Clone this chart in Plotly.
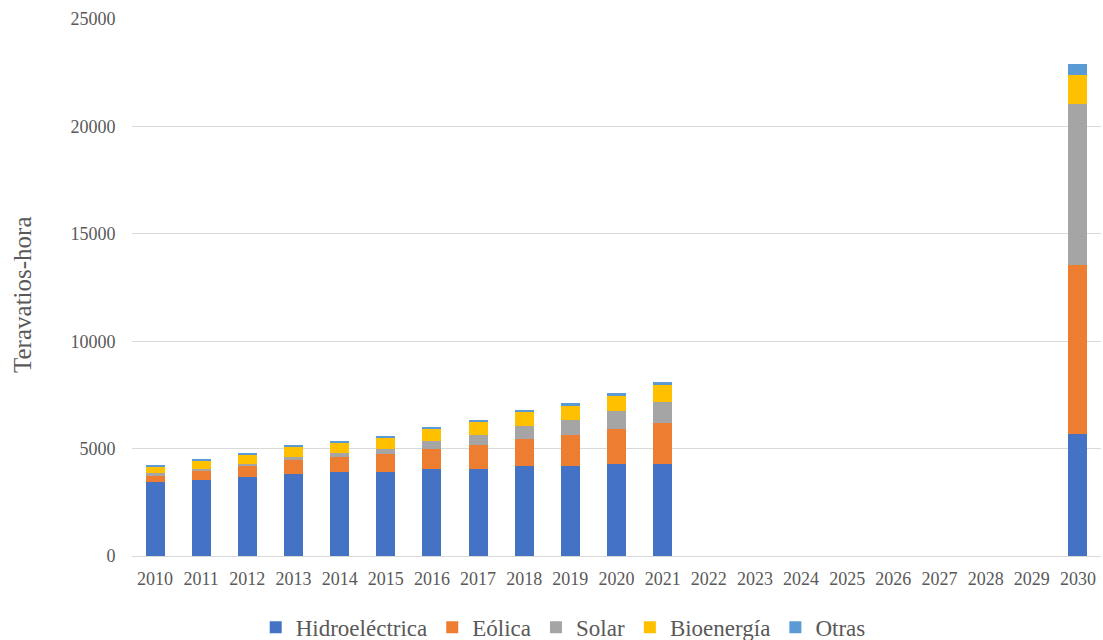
import plotly.graph_objects as go

years = [str(y) for y in range(2010, 2031)]
hidro = [3440, 3530, 3670, 3810, 3900, 3900, 4040, 4070, 4210, 4210, 4300, 4300] + [None]*8 + [5660]
eolica = [325, 420, 510, 650, 700, 840, 960, 1100, 1260, 1440, 1620, 1880] + [None]*8 + [7910]
solar = [90, 95, 125, 140, 185, 230, 345, 465, 580, 670, 840, 1005] + [None]*8 + [7450]
bio = [325, 390, 430, 485, 510, 545, 560, 605, 650, 670, 700, 765] + [None]*8 + [1360]
otras = [80, 60, 65, 60, 80, 90, 95, 95, 95, 155, 125, 155] + [None]*8 + [520]

series = [
    ("Hidroeléctrica", hidro, "#4472C4"),
    ("Eólica", eolica, "#ED7D31"),
    ("Solar", solar, "#A5A5A5"),
    ("Bioenergía", bio, "#FFC000"),
    ("Otras", otras, "#5B9BD5"),
]

fig = go.Figure()
for name, vals, col in series:
    fig.add_trace(go.Bar(x=years, y=vals, name=name, marker_color=col,
                         marker_line_width=0))

FONT = "Liberation Serif"
TXT = "#595959"
fig.update_layout(
    barmode="stack",
    bargap=0.59,
    width=1103, height=640,
    margin=dict(l=132, r=2, t=19, b=84, autoexpand=False),
    plot_bgcolor="white", paper_bgcolor="white",
    font=dict(family=FONT, color=TXT, size=18),
    legend=dict(orientation="h", x=0.445, xanchor="center",
                yref="container", y=0.02, yanchor="middle",
                font=dict(family=FONT, size=23, color=TXT), traceorder="normal",
                itemwidth=30),
    xaxis=dict(type="category", tickfont=dict(family=FONT, size=18, color=TXT),
               showgrid=False, showline=False, ticks="outside", ticklen=6,
               tickcolor="rgba(0,0,0,0)"),
    yaxis=dict(range=[0, 25000], dtick=5000, tickformat="d", showgrid=True,
               gridcolor="#d9d9d9", gridwidth=1, zeroline=True,
               zerolinecolor="#d9d9d9", zerolinewidth=1,
               tickfont=dict(family=FONT, size=18, color=TXT),
               ticks="outside", ticklen=12, tickcolor="rgba(0,0,0,0)"),
    annotations=[dict(text="Teravatios-hora", xref="paper", yref="paper",
                      x=-(132 - 22) / 969, y=(640 - 84 - 295) / (640 - 84 - 19),
                      xanchor="center", yanchor="middle", textangle=-90,
                      showarrow=False, font=dict(family=FONT, size=25, color=TXT))],
)
fig.write_html("out.html")
